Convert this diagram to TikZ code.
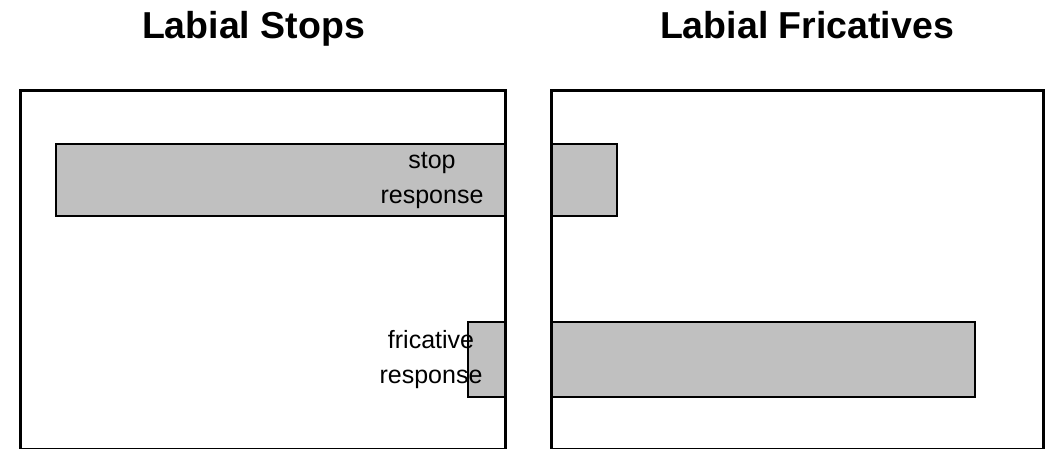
\documentclass[tikz,border=0pt]{standalone}
\usepackage{fontspec}
\setmainfont{Liberation Sans}
\definecolor{barGray}{RGB}{192,192,192}
\begin{document}
\begin{tikzpicture}
        [x=1pt, y=-1pt,
        frame/.style={draw, line width=3pt},
        bar/.style={draw, line width=1.5pt, fill=barGray},
        title/.style={font=\bfseries\fontsize{37.5}{44}\selectfont, anchor=base, inner sep=0pt},
        resp/.style={font=\fontsize{25}{35}\selectfont, align=center, inner sep=0pt}]
        \useasboundingbox (0,0) rectangle (1045,448);
        
        \node[title] (stopsTitle) at (253.5,38) {Labial Stops};
        \node[title] (fricTitle) at (807,38) {Labial Fricatives};
        
        % left panel
        \draw[bar] (56,144) rectangle (505,216);
        \draw[bar] (468,322) rectangle (505,397);
        \node[resp] (stopResp) at (432,181) {stop\\response};
        \node[resp] (fricResp) at (431,360) {fricative\\response};
        \draw[frame] (20.5,449) -- (20.5,90) -- (505,90) -- (505,449) -- cycle;
        
        % right panel
        \draw[bar] (551,144) rectangle (617,216);
        \draw[bar] (551,322) rectangle (975,397);
        \draw[frame] (551,449) -- (551,90) -- (1043,90) -- (1043,449) -- cycle;
    
    \end{tikzpicture}
\end{document}
